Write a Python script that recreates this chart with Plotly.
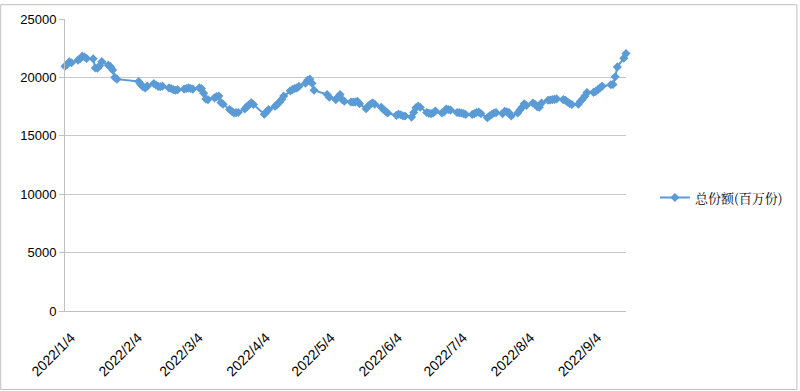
import pandas as pd
import plotly.graph_objects as go

# Trading-day calendar (Shanghai/Shenzhen 2022)
start_date = "2022-01-04"
end_date = "2022-09-20"
holidays = ["2022-01-31", "2022-02-01", "2022-02-02", "2022-02-03", "2022-02-04",
            "2022-04-04", "2022-04-05", "2022-05-02", "2022-05-03", "2022-05-04",
            "2022-06-03", "2022-09-12"]

# 总份额(百万份), one value per trading day
jan = [20950, 21100, 21340, 21250, 21480, 21600, 21820, 21750, 21620, 21600,
       20800, 20780, 21000, 21350, 21050, 20920, 20640, 20000, 19850]
feb = [19650, 19400, 19200, 19100, 19250, 19480, 19350, 19230, 19200, 19250,
       19100, 19050, 18950, 18900, 18950, 19000]
mar = [19050, 19100, 19050, 19000, 19100, 19050, 18650, 18150, 18100, 18250,
       18350, 18400, 17850, 17700, 17250, 17100, 16950, 16980, 17000, 17300,
       17500, 17650, 17820]
apr = [17680, 16850, 17050, 17250, 17540, 17680, 17900, 18100, 18400, 18850,
       18950, 19050, 19100, 19230, 19500, 19750, 19850, 19500, 18900]
may = [18530, 18300, 18100, 18300, 18530, 18100, 17960, 17900, 17880, 17900,
       17960, 17750, 17310, 17550, 17700, 17820, 17700, 17450, 17250]
jun = [17100, 16950, 16750, 16850, 16800, 16700, 16690, 16600, 17000, 17400,
       17540, 17450, 17000, 16920, 16900, 16950, 17120, 16950, 17050, 17300,
       17250]
jul = [17200, 17000, 16980, 16950, 16900, 16830, 16830, 16900, 17000, 17030,
       16900, 16550, 16700, 16830, 16950, 16980, 16900, 17100, 17050, 16980,
       16700]
aug = [16950, 17200, 17450, 17750, 17600, 17800, 17700, 17500, 17450, 17800,
       18050, 18070, 18100, 18120, 18160, 18100, 18050, 17900, 17760, 17680,
       17700, 17960, 18150]
sep = [18400, 18700, 18720, 18800, 18950, 19100, 19250, 19370, 19400, 20050,
       20900, 21650, 22050]

tick_dates = ["2022-01-04", "2022-02-04", "2022-03-04", "2022-04-04", "2022-05-04",
              "2022-06-04", "2022-07-04", "2022-08-04", "2022-09-04"]
tick_labels = ["2022/1/4", "2022/2/4", "2022/3/4", "2022/4/4", "2022/5/4",
               "2022/6/4", "2022/7/4", "2022/8/4", "2022/9/4"]
series_name = "总份额(百万份)"

days = pd.bdate_range(start_date, end_date)
days = days[~days.isin(pd.to_datetime(holidays))]
values = jan + feb + mar + apr + may + jun + jul + aug + sep
n = min(len(days), len(values))

fig = go.Figure()
fig.add_trace(go.Scatter(
    x=days[:n], y=values[:n], name=series_name, mode="lines+markers",
    line=dict(color="#5B9BD5", width=2),
    marker=dict(symbol="diamond", size=7, color="#5B9BD5"),
    cliponaxis=False,
))

L, R, T, B = 65, 628, 15, 311
W, H = 800, 391
pw, ph = R - L, B - T

fig.update_layout(
    width=W, height=H,
    margin=dict(l=L, r=W - R, t=T, b=H - B),
    paper_bgcolor="white", plot_bgcolor="white",
    font=dict(family="Liberation Sans, Arial, sans-serif", size=13, color="#000000"),
    showlegend=True,
    legend=dict(x=(657 - L) / pw, y=(B - 196) / ph, xanchor="left", yanchor="middle",
                font=dict(family="Noto Serif CJK SC, Noto Sans CJK SC", size=13,
                          color="#000000"),
                bgcolor="rgba(0,0,0,0)"),
    xaxis=dict(
        type="date", range=[start_date, end_date],
        tickvals=tick_dates, ticktext=tick_labels, tickangle=-45,
        showgrid=False, showline=True, linecolor="#bfbfbf", linewidth=1,
        ticks="", zeroline=False, ticklabelstandoff=12, ticklabelshift=6,
        tickfont=dict(size=14, color="#000000"),
    ),
    yaxis=dict(
        range=[0, 25000], dtick=5000, tickformat="d",
        showgrid=True, gridcolor="#c8c8c8", gridwidth=1,
        showline=True, linecolor="#bfbfbf", linewidth=1,
        ticks="outside", ticklen=5, tickcolor="#bfbfbf",
        zeroline=False, tickfont=dict(size=13, color="#000000"),
    ),
    shapes=[dict(type="rect", xref="paper", yref="paper",
                 x0=(0.5 - L) / pw, x1=(W - 0.5 - L) / pw,
                 y0=(B - (H - 0.5)) / ph, y1=(B - 0.5) / ph,
                 line=dict(color="#bfbfbf", width=1), fillcolor="rgba(0,0,0,0)",
                 layer="below")],
)

fig.write_html("out.html")
